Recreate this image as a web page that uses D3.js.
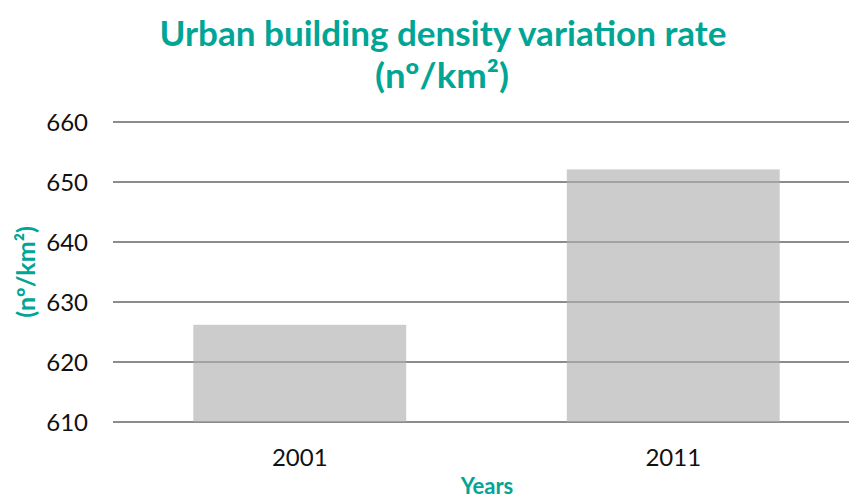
<!DOCTYPE html>
<html><head><meta charset="utf-8">
<script src="https://cdn.jsdelivr.net/npm/d3@7"></script>
<style>body{margin:0;background:#fff}svg{display:block}</style>
</head><body>
<script>
const categories = ["2001", "2011"];
const values = [626.2, 652.1];
const yTicks = [610, 620, 630, 640, 650, 660];
const titleLines = ["Urban building density variation rate", "(nº/km²)"];
const yLabel = "(nº/km²)";
const xLabel = "Years";

const W = 849, H = 499;
const teal = "#00A595";
const svg = d3.select("body").append("svg").attr("width", W).attr("height", H);

const x = d3.scaleBand().domain(categories).range([113, 860]).paddingInner(0.43).paddingOuter(0.215);
const y = d3.scaleLinear().domain([610, 660]).range([422, 122]);

// gridlines
svg.append("g").selectAll("line").data(yTicks).join("line")
  .attr("x1", 113).attr("x2", W).attr("y1", d => y(d)).attr("y2", d => y(d))
  .attr("stroke", "#8c8c8c").attr("stroke-width", 2);

// bars
svg.append("g").selectAll("rect").data(values).join("rect")
  .attr("x", (d, i) => x(categories[i])).attr("width", x.bandwidth())
  .attr("y", d => y(d)).attr("height", d => y(610) - y(d))
  .attr("fill", "#c8c8c8").attr("fill-opacity", 0.92);

svg.append("g").selectAll("line").data(yTicks).join("line")
  .attr("x1", 113).attr("x2", W).attr("y1", d => y(d)).attr("y2", d => y(d))
  .attr("stroke", "#8c8c8c").attr("stroke-width", 2).attr("stroke-opacity", 0.6);

const font = "Lato, 'Open Sans', sans-serif";

// y axis
const yAxis = d3.axisLeft(y).tickValues(yTicks).tickSize(0).tickPadding(0);
const gy = svg.append("g").attr("transform", "translate(88,0)").call(yAxis);
gy.select(".domain").remove();
gy.selectAll("text").attr("font-family", font).attr("font-size", 24).attr("fill", "#111").attr("dy", "0.36em");

// x axis
const xAxis = d3.axisBottom(x).tickSize(0).tickPadding(0);
const gx = svg.append("g").attr("transform", "translate(0,466)").call(xAxis);
gx.select(".domain").remove();
gx.selectAll("text").attr("font-family", font).attr("font-size", 24).attr("fill", "#111").attr("dy", "0");

// title (one text element, two lines)
const t = svg.append("text").attr("text-anchor", "middle").attr("fill", teal)
  .attr("font-family", font).attr("font-weight", "bold").attr("font-size", 34);
t.append("tspan").attr("x", 443).attr("y", 46)
  .attr("textLength", 567).attr("lengthAdjust", "spacingAndGlyphs").text(titleLines[0]);
t.append("tspan").attr("x", 442).attr("y", 88)
  .attr("textLength", 134).attr("lengthAdjust", "spacingAndGlyphs").text(titleLines[1]);

// axis titles
svg.append("text").attr("transform", "translate(35,272) rotate(-90)")
  .attr("text-anchor", "middle").attr("fill", teal).attr("font-family", font)
  .attr("font-weight", "bold").attr("font-size", 25).text(yLabel);
svg.append("text").attr("x", 487).attr("y", 494).attr("text-anchor", "middle")
  .attr("fill", teal).attr("font-family", font).attr("font-weight", "bold")
  .attr("font-size", 22).text(xLabel);
</script>
</body></html>
